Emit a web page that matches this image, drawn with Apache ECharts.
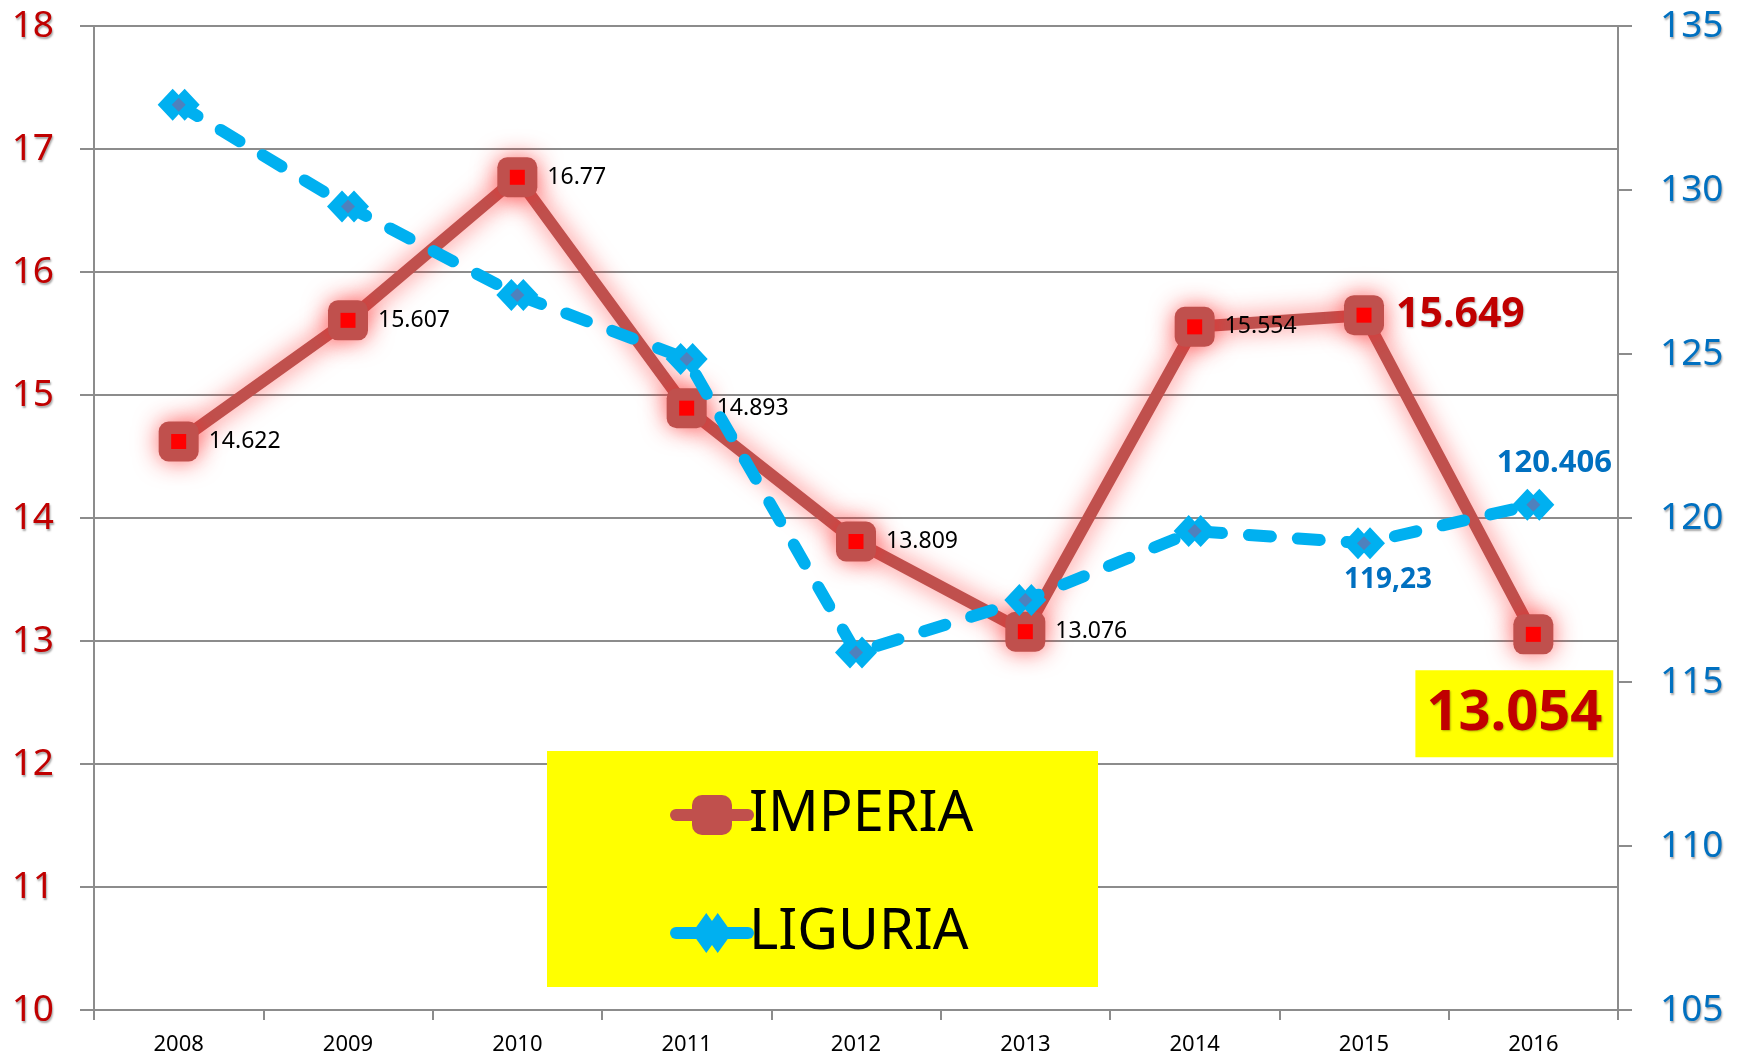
<!DOCTYPE html>
<html>
<head>
<meta charset="utf-8">
<script src="https://cdn.jsdelivr.net/npm/echarts@6/dist/echarts.min.js"></script>
<style>
html,body{margin:0;padding:0;background:#fff;}
#main{width:1741px;height:1056px;}
</style>
</head>
<body>
<div id="main"></div>
<script>
// anni
var years = ['2008', '2009', '2010', '2011', '2012', '2013', '2014', '2015', '2016'];
// IMPERIA (asse sinistro)
var imperia = [14.622, 15.607, 16.77, 14.893, 13.809, 13.076, 15.554, 15.649, 13.054];
var imperiaLabels = ['14.622', '15.607', '16.77', '14.893', '13.809', '13.076', '15.554', '15.649', '13.054'];
// LIGURIA (asse destro)
var liguria = [132.6, 129.5, 126.8, 124.85, 115.9, 117.5, 119.6, 119.23, 120.406];
var liguriaLabels = ['', '', '', '', '', '', '', '119,23', '120.406'];
// tacche assi
var leftTicks = [10, 11, 12, 13, 14, 15, 16, 17, 18];
var rightTicks = [105, 110, 115, 120, 125, 130, 135];

var FONT = 'Noto Sans';
var gridGray = '#8c8c8c';
var red = '#C0504D';
var cyan = '#00B0F0';
var doubleDiamond = 'path://M0,10 L10,0 L14,4 L18,0 L28,10 L18,20 L14,16 L10,20 Z';

// dati IMPERIA con le etichette speciali per 2015 e 2016
var imperiaData = imperia.map(function (v, i) {
	var item = { value: v, name: imperiaLabels[i] };
	if (i == 7) {
		item.label = {
			fontSize: 41, fontWeight: 'bold', color: '#C00000', distance: 12,
			textShadowColor: 'rgba(0,0,0,0.3)', textShadowBlur: 2, textShadowOffsetX: 1, textShadowOffsetY: 1
		};
	}
	if (i == 8) {
		item.label = {
			position: 'bottom', distance: 16, offset: [-19, 0],
			fontSize: 56, fontWeight: 'bold', color: '#C00000',
			backgroundColor: '#FFFF00', padding: [16, 11, 15, 11],
			textShadowColor: 'rgba(0,0,0,0.3)', textShadowBlur: 2, textShadowOffsetX: 1, textShadowOffsetY: 1
		};
	}
	return item;
});

var liguriaData = liguria.map(function (v, i) {
	var item = { value: v, name: liguriaLabels[i] };
	if (i == 7) {
		item.label = { show: true, position: 'bottom', distance: 7, offset: [24, 0] };
	}
	if (i == 8) {
		item.label = { show: true, position: 'top', distance: 10, offset: [21, 0], fontSize: 31 };
	}
	return item;
});

var myChart = echarts.init(document.getElementById('main'));
var option = {
	animation: false,
	backgroundColor: '#fff',
	textStyle: { fontFamily: FONT },
	grid: { left: 94, right: 123, top: 26, bottom: 45, containLabel: false },
	graphic: [{
		type: 'rect', left: 547, top: 751, z: 1,
		shape: { width: 551, height: 236 },
		style: { fill: '#FFFF00' }
	}],
	legend: {
		data: ['IMPERIA', 'LIGURIA'],
		orient: 'vertical',
		left: 665, top: 780,
		itemWidth: 72, itemHeight: 50, itemGap: 58,
		z: 5,
		lineStyle: { width: 12, cap: 'round', type: 'solid' },
		textStyle: { fontSize: 56, color: '#000', fontFamily: FONT, lineHeight: 60, padding: [0, 0, 0, -4] }
	},
	xAxis: {
		type: 'category',
		data: years,
		boundaryGap: true,
		axisLine: { lineStyle: { color: gridGray, width: 2 } },
		axisTick: { show: true, length: 10, lineStyle: { color: gridGray, width: 2 } },
		axisLabel: { color: '#000', fontSize: 22, margin: 24 }
	},
	yAxis: [{
		type: 'value', position: 'left',
		min: leftTicks[0], max: leftTicks[leftTicks.length - 1], interval: 1,
		axisLine: { show: true, lineStyle: { color: gridGray, width: 2 } },
		axisTick: { show: true, length: 14, lineStyle: { color: gridGray, width: 2 } },
		splitLine: { show: true, lineStyle: { color: gridGray, width: 2 } },
		axisLabel: {
			color: '#C00000', fontSize: 37, margin: 40,
			textShadowColor: 'rgba(0,0,0,0.35)', textShadowBlur: 2, textShadowOffsetX: 1, textShadowOffsetY: 2
		}
	}, {
		type: 'value', position: 'right',
		min: rightTicks[0], max: rightTicks[rightTicks.length - 1], interval: 5,
		axisLine: { show: true, lineStyle: { color: gridGray, width: 2 } },
		axisTick: { show: true, length: 14, lineStyle: { color: gridGray, width: 2 } },
		splitLine: { show: false },
		axisLabel: {
			color: '#0070C0', fontSize: 37, margin: 42,
			textShadowColor: 'rgba(0,0,0,0.35)', textShadowBlur: 2, textShadowOffsetX: 1, textShadowOffsetY: 2
		}
	}],
	series: [{
		name: 'IMPERIA',
		type: 'line',
		yAxisIndex: 0,
		data: imperiaData,
		symbol: 'roundRect',
		symbolSize: 40,
		z: 2,
		lineStyle: { color: red, width: 12, shadowBlur: 24, shadowColor: 'rgba(255,30,30,0.65)' },
		itemStyle: { color: red, shadowBlur: 24, shadowColor: 'rgba(255,30,30,0.65)' },
		label: {
			show: true, position: 'right', distance: 10,
			fontSize: 23, color: '#000',
			formatter: function (p) { return p.name; }
		}
	}, {
		name: 'imperia-core',
		type: 'line',
		yAxisIndex: 0,
		data: imperia,
		symbol: 'rect',
		symbolSize: 15,
		z: 3,
		lineStyle: { width: 0, opacity: 0 },
		itemStyle: { color: '#FF0000' },
		silent: true
	}, {
		name: 'LIGURIA',
		type: 'line',
		yAxisIndex: 1,
		data: liguriaData,
		symbol: doubleDiamond,
		symbolSize: [42, 32],
		z: 4,
		lineStyle: { color: cyan, width: 12, type: [22, 27], cap: 'round' },
		itemStyle: { color: cyan },
		label: {
			show: false, fontSize: 28, fontWeight: 'bold', color: '#0070C0',
			formatter: function (p) { return p.name; }
		}
	}, {
		name: 'liguria-core',
		type: 'line',
		yAxisIndex: 1,
		data: liguria,
		symbol: 'diamond',
		symbolSize: 14,
		z: 4,
		lineStyle: { width: 0, opacity: 0 },
		itemStyle: { color: '#4F81BD' },
		silent: true
	}]
};
myChart.setOption(option);
</script>
</body>
</html>
